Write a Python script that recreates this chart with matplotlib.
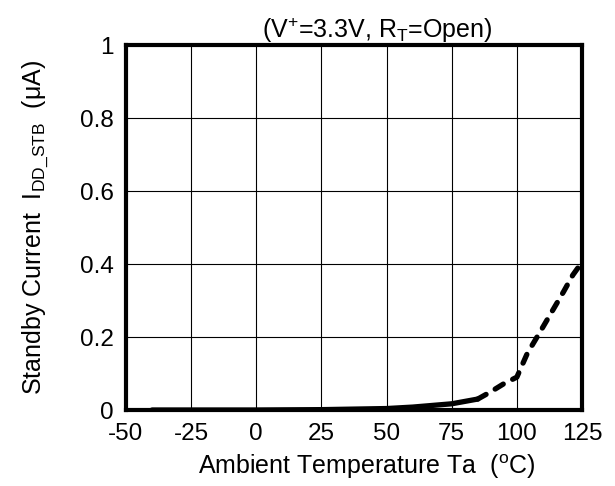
import matplotlib
matplotlib.use("Agg")
import matplotlib.pyplot as plt

plt.rcParams['font.family'] = ['Liberation Sans', 'DejaVu Sans']
plt.rcParams['mathtext.fontset'] = 'custom'
plt.rcParams['mathtext.rm'] = 'Liberation Sans'
plt.rcParams['mathtext.it'] = 'Liberation Sans:italic'
plt.rcParams['axes.unicode_minus'] = False

# measured part (solid)
temp_solid = [-40, -25, 0, 25, 50, 60, 75, 85]
curr_solid = [0.0, 0.0, 0.0, 0.001, 0.004, 0.008, 0.017, 0.03]
# extrapolated part (dashed)
temp_dash = [85, 90, 95, 100, 104, 109, 113.5, 118, 121.5, 125]
curr_dash = [0.03, 0.05, 0.072, 0.09, 0.155, 0.215, 0.27, 0.325, 0.37, 0.405]

xticks = [-50, -25, 0, 25, 50, 75, 100, 125]
yticks = [0, 0.2, 0.4, 0.6, 0.8, 1]
ylabels = ["0", "0.2", "0.4", "0.6", "0.8", "1"]

fig = plt.figure(figsize=(6.15, 4.86), dpi=100)
ax = fig.add_axes([126/615, 1 - 410/486, 456/615, 365/486])

ax.plot(temp_solid, curr_solid, color='black', lw=3.8, solid_capstyle='round')
ax.plot(temp_dash, curr_dash, color='black', lw=3.8, linestyle=(0, (1.8, 2.0)),
        dash_capstyle='round')

ax.set_xlim(-50, 125)
ax.set_ylim(0, 1)
ax.set_xticks(xticks)
ax.set_yticks(yticks)
ax.set_yticklabels(ylabels)
ax.tick_params(length=0, labelsize=17.5)
ax.tick_params(axis='y', pad=9)
ax.tick_params(axis='x', pad=9)
ax.grid(True, color='black', lw=0.8)
for s in ax.spines.values():
    s.set_linewidth(3)

ax.set_title("(V$^{+}$=3.3V, R$_{\\mathrm{T}}$=Open)", fontsize=18, pad=1, x=0.55)
ax.set_xlabel("Ambient Temperature Ta  ($^{\\mathrm{o}}$C)", fontsize=18, labelpad=2)
ax.xaxis.set_label_coords(0.528, -0.115)
ax.set_ylabel("Standby Current  I$_{\\mathrm{DD\\_STB}}$  (\u03bcA)", fontsize=18, labelpad=21)

plt.savefig("out.png", dpi=100)
